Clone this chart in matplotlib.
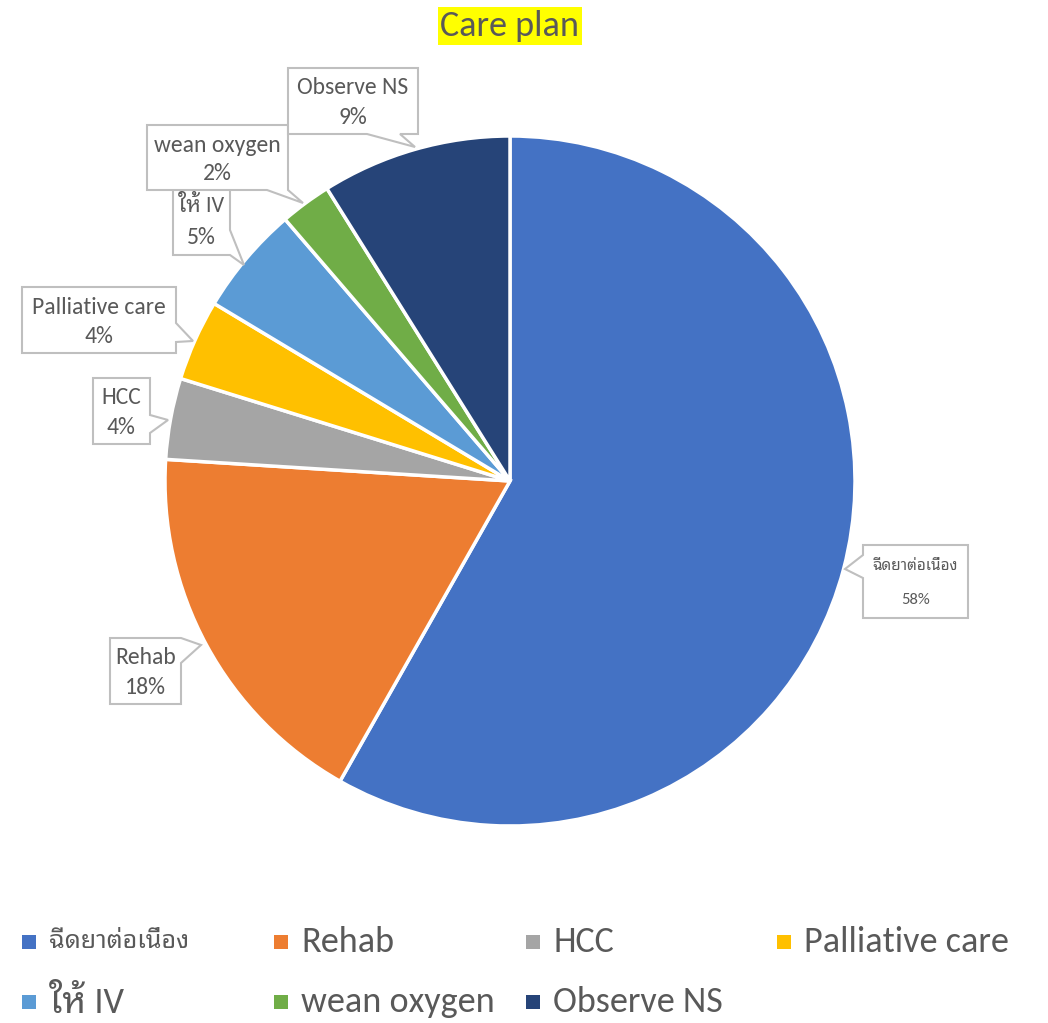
import matplotlib
matplotlib.use("Agg")
import matplotlib.pyplot as plt
from matplotlib import font_manager
from matplotlib.patches import Polygon, Rectangle
from matplotlib.transforms import Affine2D

# data (percent of cases)
categories = ["ฉีดยาต่อเนื่อง", "Rehab", "HCC", "Palliative care", "ให้ IV", "wean oxygen", "Observe NS"]
values = [58.2, 17.8, 3.8, 3.8, 5.1, 2.4, 8.9]
colors = ["#4472C4", "#ED7D31", "#A5A5A5", "#FFC000", "#5B9BD5", "#70AD47", "#264478"]

names = {f.name for f in font_manager.fontManager.ttflist}
latin = "Carlito" if "Carlito" in names else "Open Sans"
thai = "Noto Sans Thai Looped" if "Noto Sans Thai Looped" in names else "IBM Plex Sans Thai Looped"
scale = 1.0 if latin == "Carlito" else 0.86
fams = [latin, thai]

def all_thai(s):
    return all("\u0e00" <= c <= "\u0e7f" for c in s)

W, H = 1048, 1023
fig = plt.figure(figsize=(W / 100, H / 100), dpi=100)
px = Affine2D().scale(1 / W, -1 / H).translate(0, 1) + fig.transFigure
grey = "#595959"

# pie, centre (510, 481) px, radius 345 px
cx, cy, r = 510, 481, 345
ax = fig.add_axes([(cx - r) / W, (H - cy - r) / H, 2 * r / W, 2 * r / H])
ax.pie(values, colors=colors, startangle=90, counterclock=False,
       wedgeprops=dict(edgecolor="white", linewidth=2.5))
ax.set_xlim(-1, 1)
ax.set_ylim(-1, 1)
ax.set_aspect("equal")
ax.axis("off")

# title
fig.text(cx / W, 1 - 26 / H, "Care plan", ha="center", va="center",
         fontsize=26 * scale, color=grey, family=fams,
         bbox=dict(boxstyle="square,pad=0.08", fc="#FFFF00", ec="none"))

# callout boxes: (x0, y0, x1, y1), side of pointer, pointer base, tip, text rows
boxes = [
    ((863, 545, 968, 618), "left", (555, 578), (845, 569), (566, 600)),
    ((110, 638, 181, 704), "right", (638, 663), (201, 645), (658, 688)),
    ((93, 378, 150, 444), "right", (415, 433), (168, 420), (398, 427)),
    ((22, 287, 176, 353), "right", (323, 342), (193, 341), (307, 337)),
    ((173, 185, 230, 255), "right", (230, 255), (244, 265), (205, 238)),
    ((147, 125, 288, 190), "bottom", (267, 288), (303, 203), (145, 173)),
    ((288, 68, 418, 134), "bottom", (367, 400), (415, 147), (88, 118)),
]

def callout(rect, side, base, tip):
    x0, y0, x1, y1 = rect
    a, b = base
    if side == "right":
        pts = [(x0, y0), (x1, y0), (x1, a), tip, (x1, b), (x1, y1), (x0, y1)]
    elif side == "left":
        pts = [(x0, y0), (x1, y0), (x1, y1), (x0, y1), (x0, b), tip, (x0, a)]
    else:
        pts = [(x0, y0), (x1, y0), (x1, y1), (b, y1), tip, (a, y1), (x0, y1)]
    fig.add_artist(Polygon(pts, closed=True, transform=px, fc="white",
                           ec="#BFBFBF", lw=1.5))

for i, (rect, side, base, tip, rows) in enumerate(boxes):
    callout(rect, side, base, tip)
    xm = (rect[0] + rect[2]) / 2
    pct = "%d%%" % round(values[i])
    fs = (12 if i == 0 else 17) * scale
    if i == 0:
        fs_name = 11
    elif categories[i] == "ให้ IV":
        fs_name = 16 * scale
    else:
        fs_name = fs
    fig.text(xm / W, 1 - rows[0] / H, categories[i], ha="center", va="center",
             fontsize=fs_name, color=grey, family=fams)
    fig.text(xm / W, 1 - rows[1] / H, pct, ha="center", va="center",
             fontsize=fs, color=grey, family=fams)

# legend, two rows
leg_x = [22, 274, 526, 777, 22, 274, 526]
leg_y = [942, 942, 942, 942, 1002, 1002, 1002]
for i, lab in enumerate(categories):
    fig.add_artist(Rectangle((leg_x[i], leg_y[i] - 7), 14, 14, transform=px,
                             fc=colors[i], ec="none"))
    fig.text((leg_x[i] + 27) / W, 1 - leg_y[i] / H, lab, ha="left", va="center",
             fontsize=(18 if all_thai(lab) else 26 * scale), color=grey, family=fams)

fig.savefig("out.png", dpi=100, facecolor="white")
